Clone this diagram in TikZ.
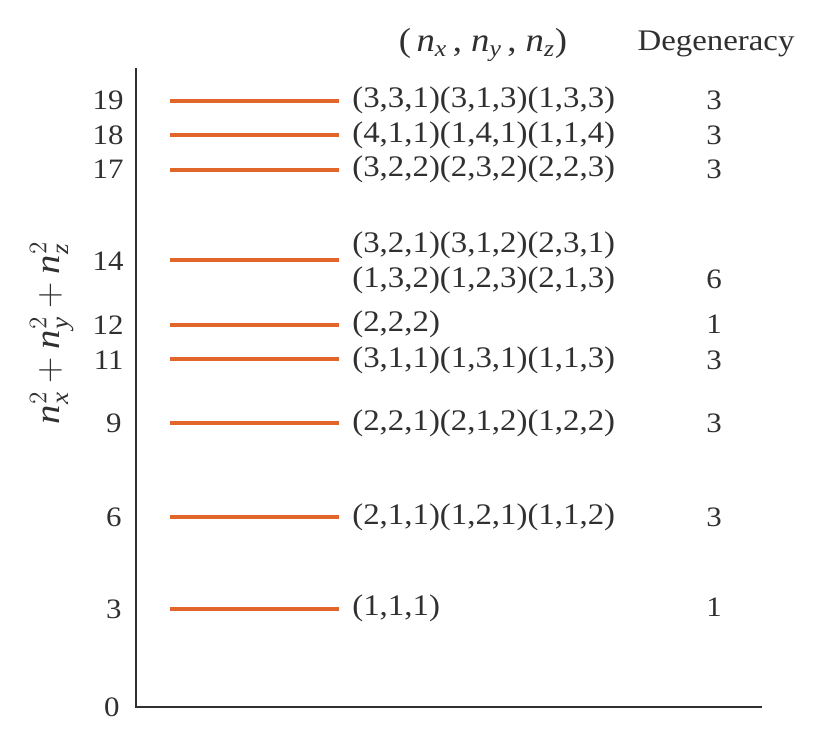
\documentclass[tikz,border=0pt]{standalone}
\usepackage{amsmath}
\usepackage{fontspec}
\setmainfont{Liberation Serif}[FakeStretch=1.1]
\usepackage{tikz}

\definecolor{levelorange}{RGB}{226,102,42}
\definecolor{inkgray}{RGB}{48,48,48}

\tikzset{
	level/.style={line width=0.08cm, levelorange},
	tick/.style={anchor=east, inner sep=0pt},
	states/.style={anchor=west, inner sep=0pt, font=\fontsize{17}{20}\selectfont},
	degen/.style={inner sep=0pt},
}

\begin{document}
\begin{tikzpicture}[x=0.02cm, y=-0.02cm, font=\fontsize{16}{19}\selectfont, text=inkgray]
			\useasboundingbox (0,0) rectangle (826,736);
			
			% axes
			\coordinate (top) at (136,68); \coordinate (origin) at (136,707); \coordinate (end) at (762,707);
			\draw[inkgray, line width=0.7pt] (top) -- (origin) -- (end);
			
			% headers and axis label
			\node (hstate) at (483,45) {\fontsize{19}{22}\selectfont(\,$\textit{n}_{\textit{x}}$\,, $\textit{n}_{\textit{y}}$\,, $\textit{n}_{\textit{z}}$)};
			\node (hdeg) at (716,44) {\fontsize{17}{20}\selectfont Degeneracy};
			\node[rotate=90] (ylab) at (52,333) {\fontsize{20}{24}\selectfont$\textit{n}^{2}_{\textit{x}}+\textit{n}^{2}_{\textit{y}}+\textit{n}^{2}_{\textit{z}}$};
			
			% tick values
			\node[tick] (t19) at (124,100) {19}; \node[tick] (t18) at (124,135) {18}; \node[tick] (t17) at (124,169) {17};
			\node[tick] (t14) at (124,261) {14}; \node[tick] (t12) at (124,325) {12}; \node[tick] (t11) at (124,360) {11};
			\node[tick] (t9) at (122,423) {9}; \node[tick] (t6) at (122,517) {6}; \node[tick] (t3) at (122,609) {3};
			\node[tick] (t0) at (120,707) {0};
			
			% energy levels
			\coordinate (a19) at (170,101); \coordinate (b19) at (339,101); \draw[level] (a19) -- (b19);
			\coordinate (a18) at (170,135); \coordinate (b18) at (339,135); \draw[level] (a18) -- (b18);
			\coordinate (a17) at (170,170); \coordinate (b17) at (339,170); \draw[level] (a17) -- (b17);
			\coordinate (a14) at (170,260); \coordinate (b14) at (339,260); \draw[level] (a14) -- (b14);
			\coordinate (a12) at (170,325); \coordinate (b12) at (339,325); \draw[level] (a12) -- (b12);
			\coordinate (a11) at (170,359); \coordinate (b11) at (339,359); \draw[level] (a11) -- (b11);
			\coordinate (a9) at (170,423); \coordinate (b9) at (339,423); \draw[level] (a9) -- (b9);
			\coordinate (a6) at (170,517); \coordinate (b6) at (339,517); \draw[level] (a6) -- (b6);
			\coordinate (a3) at (170,609); \coordinate (b3) at (339,609); \draw[level] (a3) -- (b3);
			
			% quantum numbers
			\node[states] (s19) at (352,100) {(3,3,1)(3,1,3)(1,3,3)};
			\node[states] (s18) at (352,135) {(4,1,1)(1,4,1)(1,1,4)};
			\node[states] (s17) at (352,169) {(3,2,2)(2,3,2)(2,2,3)};
			\node[states] (s14a) at (352,245) {(3,2,1)(3,1,2)(2,3,1)};
			\node[states] (s14b) at (352,280) {(1,3,2)(1,2,3)(2,1,3)};
			\node[states] (s12) at (352,324) {(2,2,2)};
			\node[states] (s11) at (352,360) {(3,1,1)(1,3,1)(1,1,3)};
			\node[states] (s9) at (352,423) {(2,2,1)(2,1,2)(1,2,2)};
			\node[states] (s6) at (352,517) {(2,1,1)(1,2,1)(1,1,2)};
			\node[states] (s3) at (352,608) {(1,1,1)};
			
			% degeneracy
			\node[degen] (d19) at (714,100) {3}; \node[degen] (d18) at (714,135) {3}; \node[degen] (d17) at (714,169) {3};
			\node[degen] (d14) at (714,279) {6}; \node[degen] (d12) at (714,324) {1}; \node[degen] (d11) at (714,360) {3};
			\node[degen] (d9) at (714,423) {3}; \node[degen] (d6) at (714,517) {3}; \node[degen] (d3) at (714,607) {1};
		\end{tikzpicture}
\end{document}
